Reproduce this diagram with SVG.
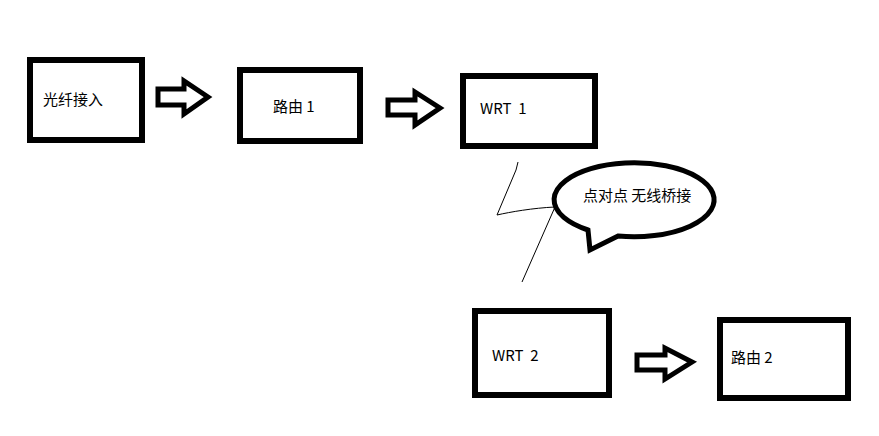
<svg xmlns="http://www.w3.org/2000/svg" width="879" height="436" viewBox="0 0 879 436">
<style>
.box{fill:#fff;stroke:#000;stroke-width:6}
.arr{fill:#fff;stroke:#000;stroke-width:5;stroke-linejoin:miter}
.bub{fill:#fff;stroke:#000;stroke-width:5;stroke-linejoin:miter}
.thin{fill:none;stroke:#000;stroke-width:1}
text{font-family:"Noto Sans CJK SC","Microsoft YaHei",sans-serif;font-size:15px;fill:#000;white-space:pre}
</style>
<rect width="879" height="436" fill="#fff"/>
<g id="n-fiber"><rect class="box" x="30" y="60" width="112" height="80"/><text x="43" y="105">光纤接入</text></g>
<g id="n-router1"><rect class="box" x="240" y="70" width="120" height="71"/><text x="273" y="112">路由 1</text></g>
<g id="n-wrt1"><rect class="box" x="463" y="76" width="132" height="70"/><text x="480" y="114">WRT  1</text></g>
<g id="n-bubble"><path class="bub" d="M588,230 A80,37 0 1 1 618,236 L590,250 Z"/><text x="583" y="201">点对点 无线桥接</text></g>
<g id="n-wrt2"><rect class="box" x="475" y="311" width="134" height="84"/><text x="492" y="361">WRT  2</text></g>
<g id="n-router2"><rect class="box" x="720" y="320" width="128" height="78"/><text x="731" y="363">路由 2</text></g>
<g id="connectors">
<path class="arr" d="M158,89 L184,89 L184,81 L208,97 L184,114 L184,105 L158,105 Z"/>
<path class="arr" d="M388,100 L415,100 L415,92 L440,108 L415,125 L415,115 L388,115 Z"/>
<path class="arr" d="M637,355 L665,355 L665,348 L692,362 L665,379 L665,370 L637,370 Z"/>
<path class="thin" d="M518,162 L516,170 L497,215 C510,212 533,208 555,207 L522,282"/>
</g>
</svg>
